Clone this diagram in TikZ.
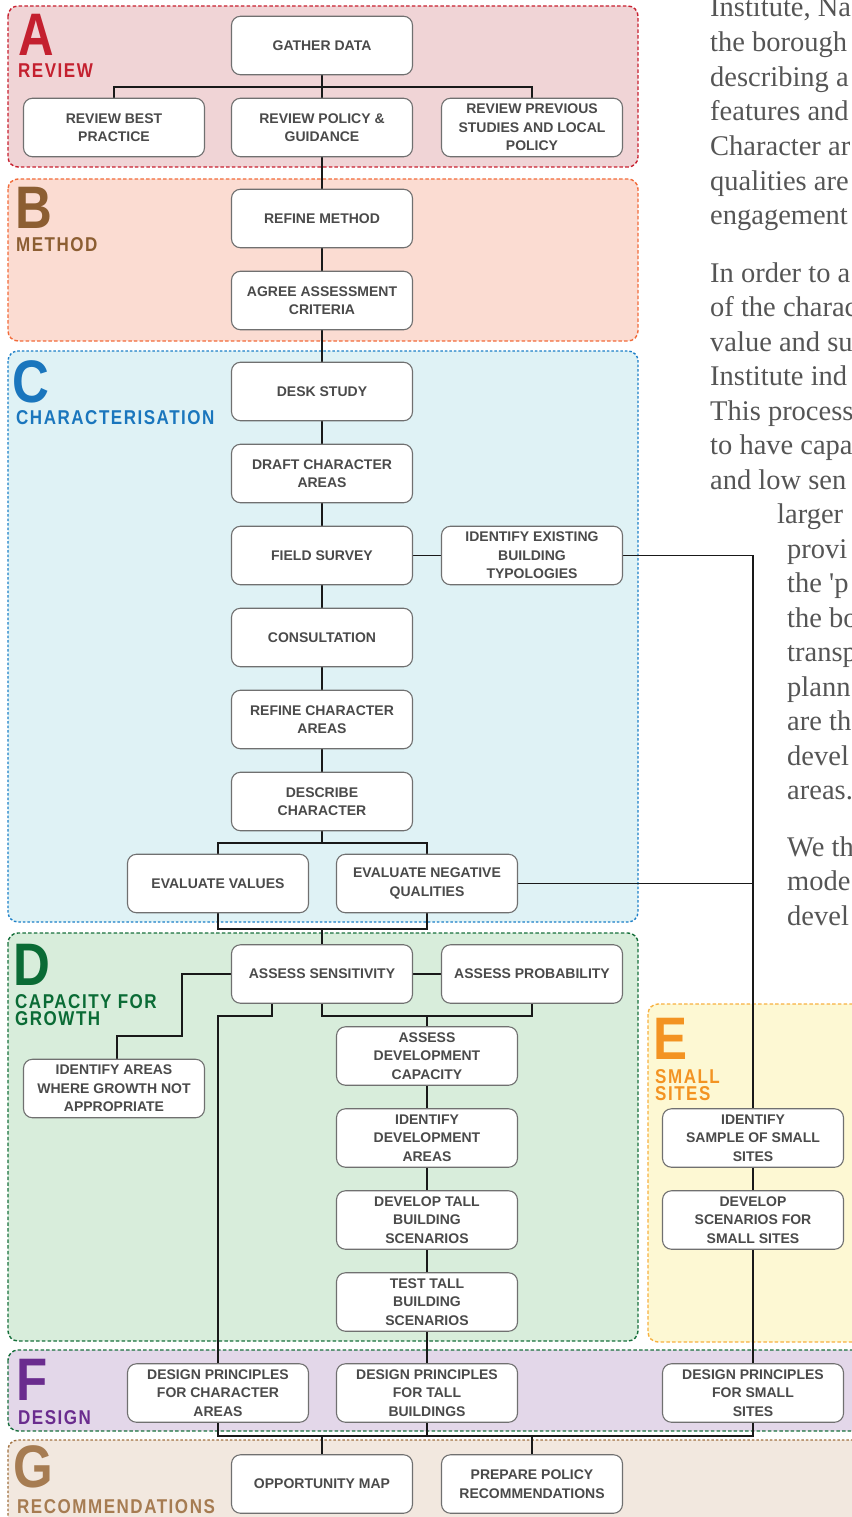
\documentclass[tikz,border=0pt]{standalone}
\usepackage{fontspec}
\newfontfamily\sansf{Liberation Sans}
\newfontfamily\labf[LetterSpace=9]{Liberation Sans}
\newfontfamily\serf{Liberation Serif}
\definecolor{fillA}{HTML}{F0D4D6}\definecolor{lineA}{HTML}{C8202F}\definecolor{colA}{HTML}{C4202F}
\definecolor{fillB}{HTML}{FBDCD2}\definecolor{lineB}{HTML}{F26B3A}\definecolor{colB}{HTML}{8C5E32}
\definecolor{fillC}{HTML}{DFF2F5}\definecolor{lineC}{HTML}{1B7FC8}\definecolor{colC}{HTML}{1A76BD}
\definecolor{fillD}{HTML}{D8EDDB}\definecolor{lineD}{HTML}{17703C}\definecolor{colD}{HTML}{0A6B35}
\definecolor{fillE}{HTML}{FDF8D3}\definecolor{lineE}{HTML}{F7B140}\definecolor{colE}{HTML}{F39322}
\definecolor{fillF}{HTML}{E3D7E9}\definecolor{colF}{HTML}{6A2C8E}
\definecolor{fillG}{HTML}{F2E8DF}\definecolor{lineG}{HTML}{A0703F}\definecolor{colG}{HTML}{A67C52}
\definecolor{boxline}{HTML}{707070}\definecolor{boxtext}{HTML}{4A4A4A}\definecolor{bodytext}{HTML}{555555}
\pgfdeclarelayer{bg}
\pgfdeclarelayer{lines}
\pgfsetlayers{bg,lines,main}
\begin{document}
\begin{tikzpicture}[x=1pt,y=-1pt,
  region/.style={rounded corners=10pt, line width=1.4pt, dash pattern=on 3.5pt off 2.2pt},
  bx/.style={draw=boxline, fill=white, rounded corners=9pt, minimum width=181pt, minimum height=58.5pt,
    inner sep=0pt, align=center, text=boxtext, line width=1.1pt,
    font=\sansf\bfseries\fontsize{14}{18.4}\selectfont},
  conn/.style={draw=black!90, line width=1.8pt},
  bigletter/.style={anchor=base west, inner sep=0pt, font=\sansf\bfseries\fontsize{60}{60}\selectfont},
  labtext/.style={anchor=base west, inner sep=0pt, font=\labf\bfseries\fontsize{20}{17}\selectfont},
  body/.style={anchor=base west, inner sep=0pt, text=bodytext, font=\serf\fontsize{28.5}{34.7}\selectfont}]
\useasboundingbox (0,0) rectangle (851,1517);
\clip (0,0) rectangle (851,1517);
\begin{pgfonlayer}{bg}
% regions
\path[region, fill=fillA, draw=lineA] (8,6) rectangle (638,167);
\path[region, fill=fillB, draw=lineB] (8,179) rectangle (638,341);
\path[region, fill=fillC, draw=lineC, dash pattern=on 2.5pt off 2pt] (8,351) rectangle (638,922);
\path[region, fill=fillD, draw=lineD] (8,933) rectangle (638,1341);
\path[region, fill=fillE, draw=lineE] (648,1004) rectangle (880,1342);
\path[region, fill=fillF, draw=lineD] (8,1350) rectangle (880,1431);
\path[region, fill=fillG, draw=lineG, dash pattern=on 2.5pt off 2pt] (8,1440) rectangle (880,1540);
% section letters and titles
\node[bigletter, text=colA] (LA) at (18,56) {\scalebox{0.82}[1]{A}};
\node[labtext, text=colA] (TA) at (18,77.5) {\scalebox{0.85}[1]{REVIEW}};
\node[bigletter, text=colB] (LB) at (15,228) {\scalebox{0.85}[1]{B}};
\node[labtext, text=colB] (TB) at (16,251) {\scalebox{0.85}[1]{METHOD}};
\node[bigletter, text=colC] (LC) at (12.5,402) {\scalebox{0.85}[1]{C}};
\node[labtext, text=colC] (TC) at (16,424) {\scalebox{0.85}[1]{CHARACTERISATION}};
\node[bigletter, text=colD] (LD) at (13,985) {\scalebox{0.85}[1]{D}};
\node[labtext, text=colD] (TD1) at (15,1008) {\scalebox{0.85}[1]{CAPACITY FOR}};
\node[labtext, text=colD] (TD2) at (15,1025) {\scalebox{0.85}[1]{GROWTH}};
\node[bigletter, text=colE] (LE) at (653,1059) {\scalebox{0.85}[1]{E}};
\node[labtext, text=colE] (TE1) at (655,1083) {\scalebox{0.85}[1]{SMALL}};
\node[labtext, text=colE] (TE2) at (655,1100) {\scalebox{0.85}[1]{SITES}};
\node[bigletter, text=colF] (LF) at (16.5,1400) {\scalebox{0.85}[1]{F}};
\node[labtext, text=colF] (TF) at (18,1424) {\scalebox{0.85}[1]{DESIGN}};
\node[bigletter, text=colG] (LG) at (13,1487) {\scalebox{0.85}[1]{G}};
\node[labtext, text=colG] (TG) at (17,1513) {\scalebox{0.85}[1]{RECOMMENDATIONS}};
\end{pgfonlayer}
% body text on the right
\node[body] (b1) at (710,17) {Institute, Na};
\node[body] (b2) at (710,52) {the borough};
\node[body] (b3) at (710,86.5) {describing a};
\node[body] (b4) at (710,121) {features and};
\node[body] (b5) at (710,155.5) {Character ar};
\node[body] (b6) at (710,190) {qualities are};
\node[body] (b7) at (710,224.5) {engagement};
\node[body] (b8) at (710,282) {In order to a};
\node[body] (b9) at (710,316.5) {of the charac};
\node[body] (b10) at (710,351) {value and su};
\node[body] (b11) at (710,385.5) {Institute ind};
\node[body] (b12) at (710,420) {This process};
\node[body] (b13) at (710,454.5) {to have capa};
\node[body] (b14) at (710,489) {and low sen};
\node[body] (b15) at (777,523.5) {larger};
\node[body] (b16) at (787,558) {provi};
\node[body] (b17) at (787,592.5) {the 'p};
\node[body] (b18) at (787,627) {the bo};
\node[body] (b19) at (787,661.5) {transp};
\node[body] (b20) at (787,696) {plann};
\node[body] (b21) at (787,730.5) {are th};
\node[body] (b22) at (787,765) {devel};
\node[body] (b23) at (787,799.5) {areas.};
\node[body] (b24) at (787,856) {We th};
\node[body] (b25) at (787,890.5) {mode};
\node[body] (b26) at (787,925) {devel};
% bus coordinates
\coordinate (busA) at (0,87);
\coordinate (busC1) at (0,843);
\coordinate (busC2) at (0,929);
\coordinate (busD) at (0,1016);
\coordinate (busDL) at (0,1036);
\coordinate (busF) at (0,1436);
% boxes
\path
 (322,45.5) node[bx] (gd) {GATHER DATA}
 (114,127.5) node[bx] (rbp) {REVIEW BEST\\PRACTICE}
 (322,127.5) node[bx] (rpg) {REVIEW POLICY \&\\GUIDANCE}
 (532,127.5) node[bx] (rps) {REVIEW PREVIOUS\\STUDIES AND LOCAL\\POLICY}
 (322,218.5) node[bx] (rm) {REFINE METHOD}
 (322,300.5) node[bx] (aac) {AGREE ASSESSMENT\\CRITERIA}
 (322,391.5) node[bx] (ds) {DESK STUDY}
 (322,473.5) node[bx] (dca) {DRAFT CHARACTER\\AREAS}
 (322,555.5) node[bx] (fs) {FIELD SURVEY}
 (532,555.5) node[bx] (iebt) {IDENTIFY EXISTING\\BUILDING\\TYPOLOGIES}
 (322,637.5) node[bx] (con) {CONSULTATION}
 (322,719.5) node[bx] (rca) {REFINE CHARACTER\\AREAS}
 (322,801.5) node[bx] (dc) {DESCRIBE\\CHARACTER}
 (218,883.5) node[bx] (ev) {EVALUATE VALUES}
 (427,883.5) node[bx] (enq) {EVALUATE NEGATIVE\\QUALITIES}
 (322,974) node[bx] (as) {ASSESS SENSITIVITY}
 (532,974) node[bx] (ap) {ASSESS PROBABILITY}
 (427,1056) node[bx] (adc) {ASSESS\\DEVELOPMENT\\CAPACITY}
 (114,1088.5) node[bx] (iag) {IDENTIFY AREAS\\WHERE GROWTH NOT\\APPROPRIATE}
 (427,1138) node[bx] (ida) {IDENTIFY\\DEVELOPMENT\\AREAS}
 (427,1220) node[bx] (dtb) {DEVELOP TALL\\BUILDING\\SCENARIOS}
 (427,1302) node[bx] (ttb) {TEST TALL\\BUILDING\\SCENARIOS}
 (753,1138) node[bx] (iss) {IDENTIFY\\SAMPLE OF SMALL\\SITES}
 (753,1220) node[bx] (dss) {DEVELOP\\SCENARIOS FOR\\SMALL SITES}
 (218,1393) node[bx] (dpc) {DESIGN PRINCIPLES\\FOR CHARACTER\\AREAS}
 (427,1393) node[bx] (dpt) {DESIGN PRINCIPLES\\FOR TALL\\BUILDINGS}
 (753,1393) node[bx] (dps) {DESIGN PRINCIPLES\\FOR SMALL\\SITES}
 (322,1484) node[bx] (om) {OPPORTUNITY MAP}
 (532,1484) node[bx] (ppr) {PREPARE POLICY\\RECOMMENDATIONS};
% connectors (on a layer below the boxes)
\begin{pgfonlayer}{lines}
\path[conn] (gd.south) -- (rpg.north);
\path[conn] (rbp.north) -- (rbp.north |- busA) -- (rps.north |- busA) -- (rps.north);
\path[conn] (rpg.south) -- (rm.north);
\path[conn] (rm.south) -- (aac.north);
\path[conn] (aac.south) -- (ds.north);
\path[conn] (ds.south) -- (dca.north);
\path[conn] (dca.south) -- (fs.north);
\path[conn] (fs.south) -- (con.north);
\path[conn] (con.south) -- (rca.north);
\path[conn] (rca.south) -- (dc.north);
\path[conn] (fs.east) -- (iebt.west);
\path[conn] (iebt.east) -| (iss.north);
\path[conn] (enq.east) -- (enq.east -| iss.north);
\path[conn] (dc.south) -- (dc.south |- busC1);
\path[conn] (ev.north) -- (ev.north |- busC1) -- (enq.north |- busC1) -- (enq.north);
\path[conn] (ev.south) -- (ev.south |- busC2) -- (enq.south |- busC2) -- (enq.south);
\path[conn] (as.north) -- (as.north |- busC2);
\path[conn] (as.east) -- (ap.west);
\path[conn] (as.west) -- ++(-49,0) coordinate (asl) -- (asl |- busDL) -- ([xshift=3pt]iag.north |- busDL) -- ([xshift=3pt]iag.north);
\path[conn] ([xshift=-50pt]as.south) -- ([xshift=-50pt]as.south |- busD) -- (dpc.north |- busD) -- (dpc.north);
\path[conn] (as.south) -- (as.south |- busD) -- (ap.south |- busD) -- (ap.south);
\path[conn] (adc.north) -- (adc.north |- busD);
\path[conn] (adc.south) -- (ida.north);
\path[conn] (ida.south) -- (dtb.north);
\path[conn] (dtb.south) -- (ttb.north);
\path[conn] (ttb.south) -- (dpt.north);
\path[conn] (iss.south) -- (dss.north);
\path[conn] (dss.south) -- (dps.north);
\path[conn] (dpc.south) -- (dpc.south |- busF) -- (dps.south |- busF) -- (dps.south);
\path[conn] (dpt.south) -- (dpt.south |- busF);
\path[conn] (om.north) -- (om.north |- busF);
\path[conn] (ppr.north) -- (ppr.north |- busF);
\end{pgfonlayer}
\end{tikzpicture}
\end{document}
